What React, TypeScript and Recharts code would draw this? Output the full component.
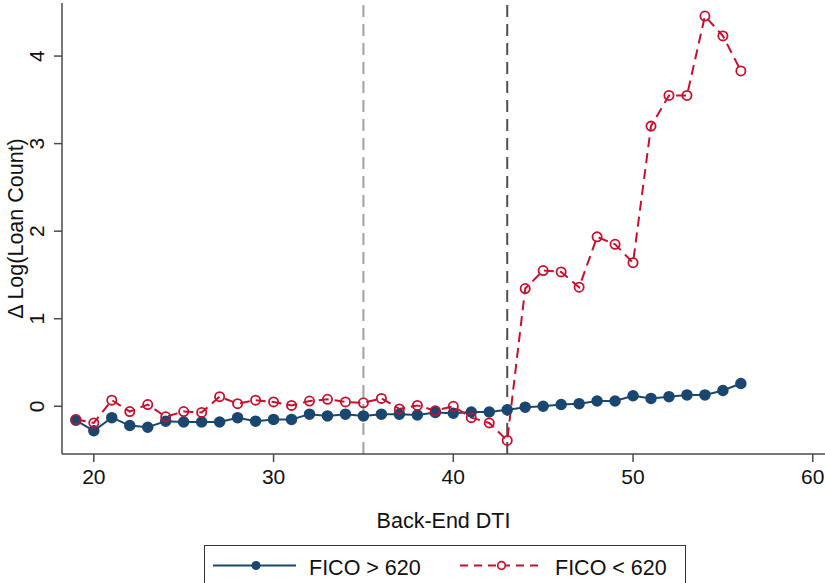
import { Legend, Line, LineChart, ReferenceLine, XAxis, YAxis } from "recharts";

const dti = [19, 20, 21, 22, 23, 24, 25, 26, 27, 28, 29, 30, 31, 32, 33, 34, 35, 36, 37, 38, 39, 40, 41, 42, 43, 44, 45, 46, 47, 48, 49, 50, 51, 52, 53, 54, 55, 56];

const ficoAbove = [
  -0.16, -0.28, -0.13, -0.22, -0.24, -0.17, -0.18, -0.18, -0.18, -0.13, -0.17, -0.15, -0.15, -0.09, -0.11, -0.09, -0.11, -0.09, -0.09,
  -0.1, -0.07, -0.08, -0.065, -0.065, -0.04, -0.01, 0.0, 0.02, 0.03, 0.06, 0.06, 0.12, 0.09, 0.11, 0.13, 0.13, 0.18, 0.26,
];

const ficoBelow = [
  -0.15, -0.19, 0.07, -0.06, 0.02, -0.12, -0.06, -0.07, 0.11, 0.03, 0.07, 0.05, 0.01, 0.06, 0.08, 0.05, 0.04, 0.09, -0.03,
  0.01, -0.05, 0.0, -0.13, -0.19, -0.39, 1.345, 1.55, 1.535, 1.36, 1.935, 1.85, 1.64, 3.2, 3.55, 3.55, 4.457, 4.23, 3.83,
];

const xTicks = [20, 30, 40, 50, 60];
const yTicks = [0, 1, 2, 3, 4];
const cutoffs = [35, 43];

const rows = dti.map((d, i) => ({ dti: d, above: ficoAbove[i], below: ficoBelow[i] }));

const FONT = "'Liberation Sans', Arial, Helvetica, sans-serif";
const NAVY = "#1A476F";
const RED = "#C8102E";
const AXIS = "#4a4a4a";

function YTick(props: any) {
  const { x, y, payload } = props;
  const bx = x - 10;
  return (
    <text x={bx} y={y} transform={`rotate(-90, ${bx}, ${y})`} textAnchor="middle" fontSize={21} fontFamily={FONT} fill="#111">
      {payload.value}
    </text>
  );
}

function XTitle(props: any) {
  const vb = props.viewBox;
  return (
    <text x={vb.x + vb.width / 2} y={vb.y + 73.5} textAnchor="middle" fontSize={21.5} fontFamily={FONT} fill="#111">
      Back-End DTI
    </text>
  );
}

function YTitle(props: any) {
  const vb = props.viewBox;
  const cy = vb.y + vb.height / 2;
  return (
    <text x={23} y={cy} transform={`rotate(-90, 23, ${cy})`} textAnchor="middle" fontSize={21.5} fontFamily={FONT} fill="#111">
      Δ Log(Loan Count)
    </text>
  );
}

function LegendBox() {
  return (
    <svg width={482} height={50} style={{ display: "block" }}>
      <rect x={0.5} y={0.5} width={481} height={60} fill="#fff" stroke="#333" strokeWidth={1} />
      <line x1={9} y1={20.5} x2={92} y2={20.5} stroke={NAVY} strokeWidth={2} />
      <circle cx={52} cy={20.5} r={4.5} fill={NAVY} />
      <text x={105} y={29.5} fontSize={21.5} fontFamily={FONT} fill="#111">
        FICO &gt; 620
      </text>
      <line x1={256} y1={20.5} x2={339} y2={20.5} stroke={RED} strokeWidth={2} strokeDasharray="8 6" />
      <circle cx={297.5} cy={20.5} r={3.8} fill="#fff" stroke={RED} strokeWidth={1.7} />
      <text x={351} y={29.5} fontSize={21.5} fontFamily={FONT} fill="#111">
        FICO &lt; 620
      </text>
    </svg>
  );
}

export default function App() {
  return (
    <div style={{ position: "absolute", left: 0, top: 0, width: 825, height: 583, background: "#fff" }}>
      <LineChart width={825} height={583} data={rows} margin={{ top: 3, right: 0, left: 0, bottom: 55 }}>
        <XAxis
          dataKey="dti"
          type="number"
          domain={[18.23, 60.68]}
          ticks={xTicks}
          allowDataOverflow
          height={74}
          stroke={AXIS}
          strokeWidth={1.5}
          tickSize={8}
          tickMargin={7}
          tick={{ fill: "#111", fontSize: 21, fontFamily: FONT }}
          label={{ content: XTitle }}
        />
        <YAxis
          type="number"
          domain={[-0.545, 4.606]}
          ticks={yTicks}
          allowDataOverflow
          width={62}
          stroke={AXIS}
          strokeWidth={1.5}
          tickSize={8}
          tickMargin={0}
          tick={YTick}
          label={{ content: YTitle }}
        />
        <ReferenceLine x={cutoffs[0]} stroke="#a0a0a0" strokeWidth={2} strokeDasharray="12 7" />
        <ReferenceLine x={cutoffs[1]} stroke="#505050" strokeWidth={2} strokeDasharray="12 7" />
        <Line
          dataKey="above"
          stroke={NAVY}
          strokeWidth={2}
          dot={{ r: 5, fill: NAVY, stroke: NAVY, strokeWidth: 1.5 }}
          isAnimationActive={false}
        />
        <Line
          dataKey="below"
          stroke={RED}
          strokeWidth={2}
          strokeDasharray="10 6"
          dot={{ r: 4.6, fill: "none", stroke: RED, strokeWidth: 1.8, strokeDasharray: "0" }}
          isAnimationActive={false}
        />
        <Legend
          layout="vertical"
          align="center"
          verticalAlign="middle"
          content={LegendBox}
          wrapperStyle={{ position: "absolute", left: 204, top: 545, width: 482, height: 50 }}
        />
      </LineChart>
    </div>
  );
}
